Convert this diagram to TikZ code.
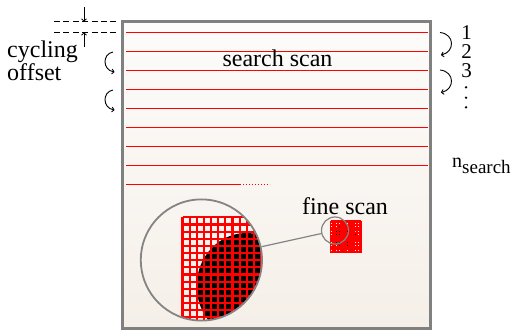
\documentclass[tikz,border=0pt]{standalone}
\usepackage{fontspec}
\setmainfont{Liberation Serif}
\usetikzlibrary{arrows.meta}
\definecolor{framegray}{RGB}{128,128,128}
\definecolor{papertop}{RGB}{253,252,250}
\definecolor{paperbottom}{RGB}{245,239,232}
\definecolor{lensgray}{RGB}{132,132,132}
% scan patch in local units: black target under the red scan grid
\newcommand\scanpatch[1]{%
  \fill[black] (10.04,5.79) ellipse [x radius=11.1, y radius=11.8];
  \foreach \k in {0,...,19}
    \draw[red, line width=#1] (-4.2+1.59*\k,-9.5) -- (-4.2+1.59*\k,22.5);
  \foreach \k in {0,...,20}
    \draw[red, line width=#1] (-4.2,-9.5+1.59*\k) -- (26,-9.5+1.59*\k);
}
\begin{document}
\begin{tikzpicture}[x=1pt, y=-1pt,
  frame/.style={draw=framegray, line width=2.6pt},
  scanline/.style={red, line width=1.9pt},
  guide/.style={black, line width=0.8pt, dash pattern=on 6pt off 3.4pt},
  tick/.style={black, line width=0.8pt, -{To[length=3pt,width=5.5pt]}},
  turn/.style={black, line width=0.9pt, -{To[length=3pt,width=5.5pt]}},
  lens/.style={circle, draw=lensgray, inner sep=0pt},
  label/.style={inner sep=0pt, font=\fontsize{24}{21}\selectfont},
  count/.style={inner sep=0pt, font=\fontsize{21}{21}\selectfont, anchor=base},
]
\useasboundingbox (0,0) rectangle (511,331);

% scanning field
\shade[top color=papertop, bottom color=paperbottom] (122.5,21.3) rectangle (430.5,328.5);
\draw[frame] (122.5,21.3) rectangle (430.5,328.5);

% search scan lines
\foreach \i in {0,...,7}
  \draw[scanline] (126,32.5+19*\i) -- (428,32.5+19*\i);
\draw[scanline] (126,184.5) -- (240,184.5);
\draw[scanline, dash pattern=on 1.4pt off 1.6pt] (240,184.5) -- (270,184.5);

\node[label, anchor=base] (search) at (277.5,67) {search scan};

% cycling offset marker
\coordinate (g1a) at (54,21.5);  \coordinate (g1b) at (117,21.5);
\coordinate (g2a) at (54,32.5);  \coordinate (g2b) at (117,32.5);
\draw[guide] (g1a) -- (g1b);
\draw[guide] (g2a) -- (g2b);
\coordinate (t1) at (84,7);   \coordinate (t1e) at (84,21.5);
\coordinate (t2) at (84,47);  \coordinate (t2e) at (84,32.5);
\draw[tick] (t1) -- (t1e);
\draw[tick] (t2) -- (t2e);
\node[label, anchor=north west, align=left] (offset) at (7,40.5) {cycling\\offset};

% line-to-line turns
\coordinate (l1a) at (113,52);   \coordinate (l1b) at (114.5,72);
\coordinate (l2a) at (113,90);   \coordinate (l2b) at (114.5,110);
\draw[turn] (l1a) .. controls +(-11,2) and +(-12,-2) .. (l1b);
\draw[turn] (l2a) .. controls +(-11,2) and +(-12,-2) .. (l2b);
\coordinate (r1a) at (440,32.5); \coordinate (r1b) at (441,55);
\coordinate (r2a) at (440,70);   \coordinate (r2b) at (441,92.5);
\draw[turn] (r1a) .. controls +(15,1.5) and +(14,-3) .. (r1b);
\draw[turn] (r2a) .. controls +(15,1.5) and +(14,-3) .. (r2b);

% line counter
\node[count] (c1) at (466.5,39.5) {1};
\node[count] (c2) at (466.5,58.5) {2};
\node[count] (c3) at (466.5,77.7) {3};
\fill (466,87.3) circle (1.3pt);
\fill (466,97.7) circle (1.3pt);
\fill (466,107.3) circle (1.3pt);
\node[inner sep=0pt, anchor=base west] (nsearch) at (452,167.3)
  {\fontsize{20}{20}\selectfont n\raisebox{-6pt}{\fontsize{19}{19}\selectfont search}};

% fine scan patch and its magnified view
\begin{scope}[shift={(335,230.5)}]
  \scanpatch{1.25pt}
\end{scope}
\begin{scope}
  \clip (201.4,260) circle (60.6pt);
  \begin{scope}[shift={(201.4,260)}, scale=4.49]
    \scanpatch{2.1pt}
  \end{scope}
\end{scope}
\node[lens, line width=1.8pt, minimum size=121.2pt] (big) at (201.4,260) {};
\node[lens, line width=1.2pt, minimum size=27pt] (spot) at (335,230.5) {};
\draw[lensgray, line width=1.2pt] (big) -- (spot);
\node[label, anchor=base] (fine) at (345,214.5) {fine scan};
\end{tikzpicture}
\end{document}
